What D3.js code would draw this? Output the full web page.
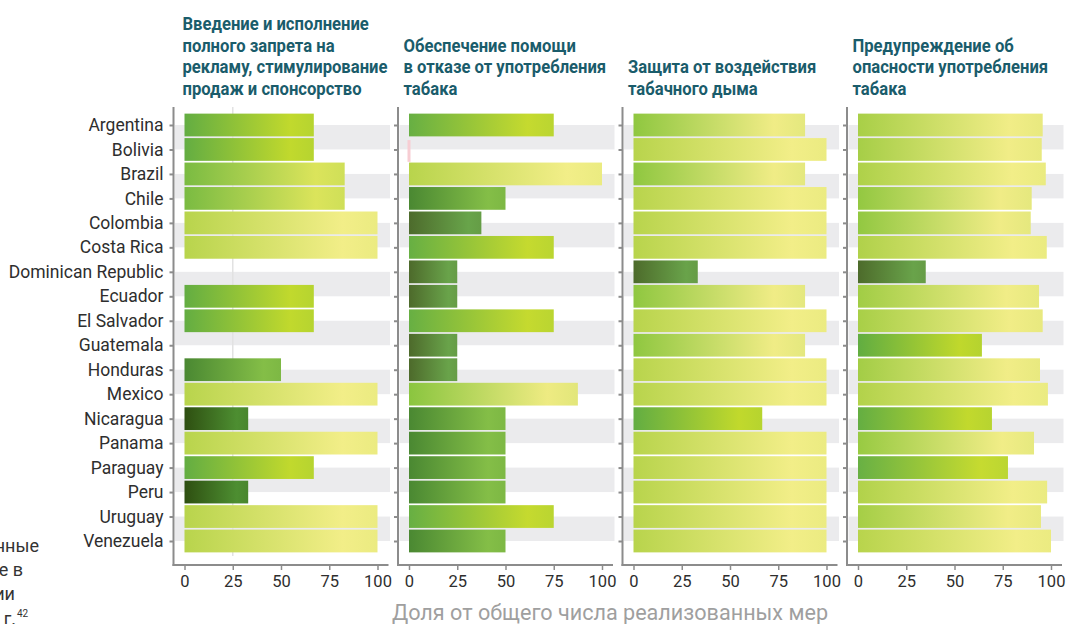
<!DOCTYPE html>
<meta charset="utf-8">
<script src="https://d3js.org/d3.v7.min.js"></script>
<style>
  body { margin: 0; background: #fff; }
  text { font-family: Roboto, "Noto Sans", sans-serif; }
</style>
<div id="chart"></div>
<script>

// countries, top to bottom
var countries = ["Argentina", "Bolivia", "Brazil", "Chile", "Colombia", "Costa Rica",
  "Dominican Republic", "Ecuador", "El Salvador", "Guatemala", "Honduras", "Mexico",
  "Nicaragua", "Panama", "Paraguay", "Peru", "Uruguay", "Venezuela"];

// share of implemented measures, % (null = no bar)
var adsBan       = [67, 67, 83, 83, 100, 100, null, 67, 67, null, 50, 100, 33, 100, 67, 33, 100, 100];
var quitHelp     = [75, 0, 100, 50, 37.5, 75, 25, 25, 75, 25, 25, 87.5, 50, 50, 50, 50, 75, 50];
var smokeProtect = [88.9, 100, 88.9, 100, 100, 100, 33.3, 88.9, 100, 88.9, 100, 100, 66.7, 100, 100, 100, 100, 100];
var warnDanger   = [95.7, 95.2, 97.3, 90, 89.5, 97.8, 35.1, 93.8, 95.7, 64.2, 94.3, 98.4, 69.4, 91.2, 77.7, 98, 94.8, 100];

var panelTitles = [
  ["Введение и исполнение", "полного запрета на", "рекламу, стимулирование", "продаж и спонсорство"],
  ["Обеспечение помощи", "в отказе от употребления", "табака"],
  ["Защита от воздействия", "табачного дыма"],
  ["Предупреждение об", "опасности употребления", "табака"]
];
var panelValues = [adsBan, quitHelp, smokeProtect, warnDanger];

var xTicks = [0, 25, 50, 75, 100];
var axisTitle = "Доля от общего числа реализованных мер";

var width = 1069, height = 624;
var firstLeft = 173.5, panelStep = 224.5, panelW = 215;
var axisTop = 107, axisBottom = 565;

var svg = d3.select("#chart").append("svg")
  .attr("width", width)
  .attr("height", height);
var defs = svg.append("defs");

var y = d3.scalePoint().domain(countries).range([125, 541]);
var barH = y.step() * 0.93;

// colours of a bar depend on its value
var colDomain = [0, 28, 45, 50, 62, 78, 88, 100];
var leftCol = d3.scaleLinear().domain(colDomain)
  .range(["#506b2e", "#4d6a2b", "#4d6c2c", "#4a8832", "#60ac41", "#68b044", "#8cc63f", "#b8d44c"]);
var rightCol = d3.scaleLinear().domain(colDomain)
  .range(["#6aa34b", "#69a34a", "#68a44a", "#84be47", "#bfd82b", "#c6db30", "#f0ec86", "#f2ee88"]);
// the first panel shows its lowest shares in a darker green
var darkLow = d3.scaleLinear().domain([0, 40, 45])
  .range(["#2c4a0e", "#2f5012", "#4d6c2c"]).clamp(true);
var darkLowEnd = d3.scaleLinear().domain([0, 40, 45])
  .range(["#4a8a2f", "#4e8f32", "#68a44a"]).clamp(true);

panelValues.forEach(function(values, p) {
  var left = firstLeft + p * panelStep;
  var x = d3.scaleLinear().domain([-5.7, 105.7]).range([left, left + panelW]);
  var g = svg.append("g");

  // grey stripes between pairs of rows
  countries.forEach(function(c, i) {
    if (i % 2 === 0 && i + 1 < countries.length) {
      g.append("rect")
        .attr("x", left + 1.5)
        .attr("y", y(c))
        .attr("width", panelW)
        .attr("height", y(countries[i + 1]) - y(c))
        .attr("fill", "#ebebed");
    }
  });

  if (p === 0) {
    g.append("line")
      .attr("x1", x(25)).attr("x2", x(25))
      .attr("y1", axisTop).attr("y2", 556)
      .attr("stroke", "#e2e2e2").attr("stroke-width", 1.5);
  }

  // bars
  values.forEach(function(v, i) {
    if (v === null) return;
    if (v === 0) {
      g.append("rect")
        .attr("x", x(0) - 1.5).attr("y", y(countries[i]) - barH / 2 + 2)
        .attr("width", 3).attr("height", barH - 1)
        .attr("fill", "#f7cdd3");
      return;
    }
    var id = "grad" + p + "_" + i;
    var lc = leftCol(v), rc = rightCol(v);
    if (p === 0 && v < 45) { lc = darkLow(v); rc = darkLowEnd(v); }
    var grad = defs.append("linearGradient").attr("id", id);
    grad.append("stop").attr("offset", "0%").attr("stop-color", lc);
    grad.append("stop").attr("offset", "82%").attr("stop-color", rc);
    grad.append("stop").attr("offset", "100%").attr("stop-color", d3.interpolateRgb(rc, lc)(0.12));
    g.append("rect")
      .attr("x", x(0))
      .attr("y", y(countries[i]) - barH / 2)
      .attr("width", x(v) - x(0))
      .attr("height", barH)
      .attr("fill", "url(#" + id + ")");
  });

  // left axis with ticks
  var yAxis = g.append("g")
    .attr("transform", "translate(" + left + ",0)")
    .call(d3.axisLeft(y).tickSize(4).tickPadding(6).tickFormat(p === 0 ? null : ""));
  yAxis.select(".domain").remove();
  yAxis.selectAll(".tick line").attr("stroke", "#8c8c8c").attr("stroke-width", 2);
  yAxis.selectAll(".tick text")
    .attr("fill", "#2e2e2e")
    .style("font-size", "17.5px")
    .style("font-family", "Roboto, sans-serif");
  g.append("line")
    .attr("x1", left).attr("x2", left)
    .attr("y1", axisTop).attr("y2", axisBottom + 1)
    .attr("stroke", "#8c8c8c").attr("stroke-width", 2);

  // bottom axis
  var xAxis = g.append("g")
    .attr("transform", "translate(0," + axisBottom + ")")
    .call(d3.axisBottom(x).tickValues(xTicks).tickSize(5).tickPadding(5));
  xAxis.select(".domain").remove();
  xAxis.selectAll(".tick line").attr("stroke", "#8c8c8c").attr("stroke-width", 1.5);
  xAxis.selectAll(".tick text")
    .attr("fill", "#2e2e2e")
    .style("font-size", "16.5px")
    .style("font-family", "Roboto, sans-serif");
  g.append("line")
    .attr("x1", left - 1).attr("x2", left + panelW)
    .attr("y1", axisBottom).attr("y2", axisBottom)
    .attr("stroke", "#8c8c8c").attr("stroke-width", 2);
});

// panel titles, condensed by horizontal scaling
var titleLines = [];
panelTitles.forEach(function(lines, p) {
  var left = firstLeft + p * panelStep;
  var tx = p === 0 ? left + 9 : left + 5.5;
  var tg = svg.append("g").attr("class", "title").attr("data-x", tx);
  lines.forEach(function(line, j) {
    var t = tg.append("text")
      .attr("x", 0)
      .attr("y", 95 - (lines.length - 1 - j) * 21.6)
      .attr("fill", "#1a5c6b")
      .style("font-size", "18.4px")
      .style("font-weight", 700)
      .text(line);
    titleLines.push(t);
  });
});
var refW = titleLines[2].node().getComputedTextLength();
var k = 205 / refW;
svg.selectAll("g.title").attr("transform", function() {
  return "translate(" + d3.select(this).attr("data-x") + ",0) scale(" + k + ",1)";
});

// axis title
svg.append("text")
  .attr("x", 610)
  .attr("y", 620)
  .attr("text-anchor", "middle")
  .attr("fill", "#9f9f9f")
  .style("font-size", "21.6px")
  .text(axisTitle);

// text cut off at the left edge of the picture
var sideText = svg.append("g").attr("fill", "#333").style("font-size", "18px");
sideText.append("text").attr("x", 39).attr("y", 552).attr("text-anchor", "end").text("нные");
sideText.append("text").attr("x", 23).attr("y", 576).attr("text-anchor", "end").text("е в");
sideText.append("text").attr("x", 15).attr("y", 600).attr("text-anchor", "end").text("ии");
sideText.append("text").attr("x", 16).attr("y", 625).attr("text-anchor", "end").text("г.");
sideText.append("text").attr("x", 17).attr("y", 617).style("font-size", "10px").text("42");

</script>
